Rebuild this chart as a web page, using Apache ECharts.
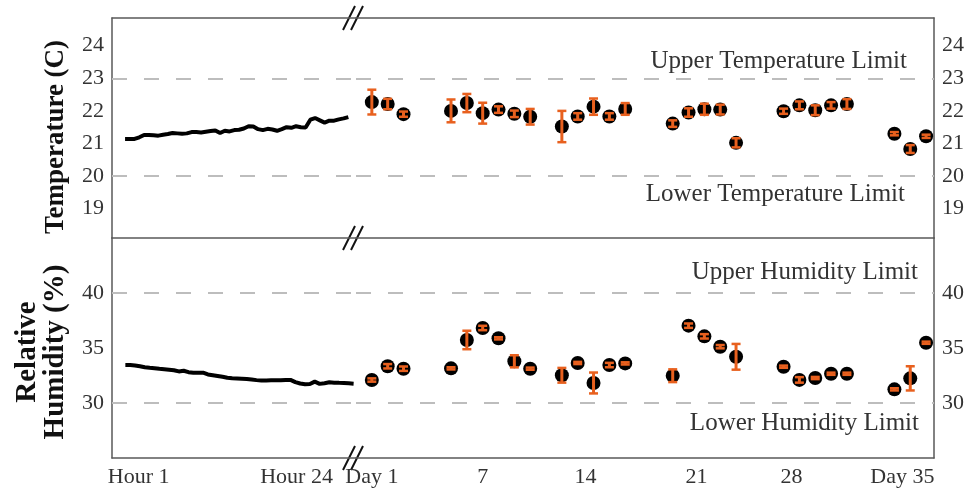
<!DOCTYPE html>
<html>
<head>
<meta charset="utf-8">
<script src="https://cdn.jsdelivr.net/npm/echarts@6/dist/echarts.min.js"></script>
<style>
html,body{margin:0;padding:0;background:#fff;}
#chart{width:968px;height:496px;}
</style>
</head>
<body>
<div id="chart"></div>
<script>
// ---------- data ----------
// hourly (first 24 h) samples, index = sample number
const tempHourly = [21.14,21.14,21.14,21.19,21.26,21.26,21.25,21.24,21.27,21.29,21.32,21.31,21.30,21.31,21.35,21.35,21.34,21.36,21.38,21.40,21.32,21.39,21.37,21.41,21.42,21.46,21.53,21.52,21.44,21.41,21.45,21.43,21.39,21.44,21.50,21.48,21.53,21.50,21.49,21.73,21.78,21.71,21.64,21.70,21.70,21.74,21.77,21.81];
const humHourly = [33.45,33.45,33.41,33.34,33.25,33.20,33.16,33.11,33.07,33.03,32.98,32.87,32.93,32.80,32.75,32.75,32.76,32.60,32.53,32.46,32.38,32.29,32.25,32.23,32.21,32.19,32.14,32.08,32.04,32.05,32.06,32.06,32.06,32.09,32.10,31.90,31.77,31.70,31.72,31.94,31.74,31.80,31.88,31.85,31.83,31.82,31.79,31.76];

// daily measurements (slot on the day axis)
const daySlots = [1,2,3,6,7,8,9,10,11,13,14,15,16,17,20,21,22,23,24,27,28,29,30,31,34,35,36];
const tempDaily = [22.27,22.21,21.90,22.00,22.24,21.93,22.04,21.91,21.82,21.52,21.83,22.13,21.83,22.06,21.61,21.95,22.05,22.04,21.02,21.99,22.17,22.02,22.17,22.21,21.30,20.83,21.22];
const tempErr   = [0.38,0.16,0.08,0.35,0.28,0.32,0.10,0.10,0.24,0.48,0.10,0.25,0.10,0.18,0.10,0.13,0.17,0.15,0.14,0.08,0.12,0.15,0.10,0.15,0.05,0.12,0.05];
const humDaily  = [32.09,33.34,33.12,33.15,35.73,36.82,35.88,33.79,33.12,32.52,33.64,31.82,33.45,33.60,32.48,37.03,36.06,35.12,34.20,33.30,32.10,32.27,32.66,32.66,31.24,32.24,35.48];
const humErr    = [0.15,0.20,0.20,0.10,0.84,0.20,0.10,0.55,0.10,0.67,0.10,0.95,0.20,0.10,0.58,0.20,0.20,0.15,1.17,0.10,0.25,0.10,0.10,0.10,0.10,1.10,0.10];

// tick labels
const hourTickPos = [2.75, 35.25];
const hourTickText = ['Hour 1', 'Hour 24'];
const dayTickPos = [1, 8, 14.5, 21.5, 27.5, 34.5];
const dayTickText = ['Day 1', '7', '14', '21', '28', 'Day 35'];
const tempTicks = [19, 20, 21, 22, 23, 24];
const humTicks = [30, 35, 40];

// limits
const tempLimits = [23, 20];
const tempLimitNames = ['Upper Temperature Limit', 'Lower Temperature Limit'];
const humLimits = [40, 30];
const humLimitNames = ['Upper Humidity Limit', 'Lower Humidity Limit'];

// ---------- styling ----------
const FONT = 'Liberation Serif';
const TXT = '#333';
const FRAME = '#595959';
const ORANGE = '#E8601E';
const DASH = {color: '#bdbdbd', width: 2, type: [15, 17]};

function tickFmt(pos, text) {
  return function (v) {
    for (let i = 0; i < pos.length; i++) if (Math.abs(pos[i] - v) < 1e-6) return text[i];
    return '';
  };
}
function listFmt(list) {
  return function (v) {
    for (const t of list) if (Math.abs(t - v) < 1e-6) return String(t);
    return '';
  };
}

const axisLine = {show: true, onZero: false, lineStyle: {color: FRAME, width: 1.5}};
const labelBase = {fontFamily: FONT, fontSize: 22, color: TXT};

function xAx(grid, pos, min, max, extra) {
  return Object.assign({
    type: 'value', gridIndex: grid, position: pos, min: min, max: max,
    axisLine: axisLine, axisTick: {show: false}, splitLine: {show: false},
    axisLabel: {show: false}
  }, extra || {});
}
function yAx(grid, pos, min, max, fmt, extra) {
  return Object.assign({
    type: 'value', gridIndex: grid, position: pos, min: min, max: max,
    axisLine: axisLine, axisTick: {show: false}, splitLine: {show: false},
    axisLabel: Object.assign({formatter: fmt, margin: 8, showMinLabel: false, showMaxLabel: false}, labelBase)
  }, extra || {});
}

function limitMarks(values, names, labelCfg) {
  return {
    silent: true, symbol: 'none', animation: false,
    lineStyle: DASH,
    data: values.map((v, i) => {
      const d = {yAxis: v};
      if (labelCfg) {
        d.label = Object.assign({show: true, formatter: names[i], fontFamily: FONT, fontSize: 25, color: TXT}, labelCfg[i]);
      } else {
        d.label = {show: false};
      }
      return d;
    })
  };
}

function errBars(xIdx, yIdx, means, errs) {
  return {
    type: 'custom', xAxisIndex: xIdx, yAxisIndex: yIdx, z: 5,
    encode: {x: 0, y: [1, 2]},
    data: daySlots.map((d, i) => [d, means[i] - errs[i], means[i] + errs[i]]),
    renderItem: function (params, api) {
      const x = api.value(0);
      const lo = api.coord([x, api.value(1)]);
      const hi = api.coord([x, api.value(2)]);
      const hw = 4.5;
      const st = {stroke: ORANGE, lineWidth: 2.5};
      return {type: 'group', children: [
        {type: 'line', shape: {x1: lo[0], y1: lo[1], x2: hi[0], y2: hi[1]}, style: {stroke: ORANGE, lineWidth: 3}},
        {type: 'line', shape: {x1: lo[0] - hw, y1: lo[1], x2: lo[0] + hw, y2: lo[1]}, style: st},
        {type: 'line', shape: {x1: hi[0] - hw, y1: hi[1], x2: hi[0] + hw, y2: hi[1]}, style: st}
      ]};
    }
  };
}

// break marks
function breakMark(y) {
  return {type: 'group', z: 100, children: [
    {type: 'rect', shape: {x: 347, y: y - 3, width: 14, height: 6}, style: {fill: '#fff'}},
    {type: 'line', shape: {x1: 343, y1: y + 12, x2: 355, y2: y - 12}, style: {stroke: '#111', lineWidth: 2}},
    {type: 'line', shape: {x1: 351, y1: y + 12, x2: 363, y2: y - 12}, style: {stroke: '#111', lineWidth: 2}}
  ]};
}

const option = {
  animation: false,
  backgroundColor: '#fff',
  grid: [
    {left: 112, top: 18, width: 244, height: 220},
    {left: 356, top: 18, width: 578, height: 220},
    {left: 112, top: 238, width: 244, height: 220},
    {left: 356, top: 238, width: 578, height: 220}
  ],
  xAxis: [
    xAx(0, 'top', -2.75, 48.61),
    xAx(1, 'top', 0, 36.5),
    xAx(2, 'bottom', -2.75, 47.49, {interval: 0.25,
      axisLabel: Object.assign({show: true, formatter: tickFmt(hourTickPos, hourTickText), margin: 8}, labelBase)}),
    xAx(3, 'bottom', 0, 36.5, {interval: 0.5,
      axisLabel: Object.assign({show: true, formatter: tickFmt(dayTickPos, dayTickText), margin: 8}, labelBase)}),
    xAx(2, 'top', -2.75, 47.49),
    xAx(3, 'top', 0, 36.5)
  ],
  yAxis: [
    yAx(0, 'left', 18.1, 24.85, listFmt(tempTicks), {
      name: 'Temperature (C)', nameLocation: 'middle', nameRotate: 90, nameGap: 42,
      nameTextStyle: {fontFamily: FONT, fontSize: 27, fontWeight: 'bold', color: '#111', padding: [0, 18, 0, 0]}
    }),
    yAx(1, 'right', 18.1, 24.85, listFmt(tempTicks)),
    yAx(2, 'left', 25, 45, listFmt(humTicks), {
      interval: 5,
      name: 'Relative\nHumidity (%)', nameLocation: 'middle', nameRotate: 90, nameGap: 42,
      nameTextStyle: {fontFamily: FONT, fontSize: 29, fontWeight: 'bold', color: '#111', lineHeight: 28, padding: [0, 8, 0, 0]}
    }),
    yAx(3, 'right', 25, 45, listFmt(humTicks), {interval: 5})
  ],
  series: [
    {
      type: 'line', xAxisIndex: 0, yAxisIndex: 0, showSymbol: false, z: 3,
      data: tempHourly.map((v, i) => [i, v]),
      lineStyle: {color: '#000', width: 4},
      markLine: limitMarks(tempLimits, tempLimitNames, null)
    },
    {
      type: 'scatter', xAxisIndex: 1, yAxisIndex: 1, symbolSize: 14, z: 3,
      itemStyle: {color: '#000', opacity: 1},
      data: daySlots.map((d, i) => [d, tempDaily[i]]),
      markLine: limitMarks(tempLimits, tempLimitNames, [
        {position: 'insideEndTop', distance: [27, 4]},
        {position: 'insideEndBottom', distance: [29, 6]}
      ])
    },
    errBars(1, 1, tempDaily, tempErr),
    {
      type: 'line', xAxisIndex: 2, yAxisIndex: 2, showSymbol: false, z: 3,
      data: humHourly.map((v, i) => [i, v]),
      lineStyle: {color: '#000', width: 4},
      markLine: limitMarks(humLimits, humLimitNames, null)
    },
    {
      type: 'scatter', xAxisIndex: 3, yAxisIndex: 3, symbolSize: 14, z: 3,
      itemStyle: {color: '#000', opacity: 1},
      data: daySlots.map((d, i) => [d, humDaily[i]]),
      markLine: limitMarks(humLimits, humLimitNames, [
        {position: 'insideEndTop', distance: [16, 8]},
        {position: 'insideEndBottom', distance: [15, 8]}
      ])
    },
    errBars(3, 3, humDaily, humErr)
  ],
  graphic: [breakMark(18), breakMark(238), breakMark(458)]
};

const chart = echarts.init(document.getElementById('chart'), null, {renderer: 'canvas'});
chart.setOption(option);
</script>
</body>
</html>
